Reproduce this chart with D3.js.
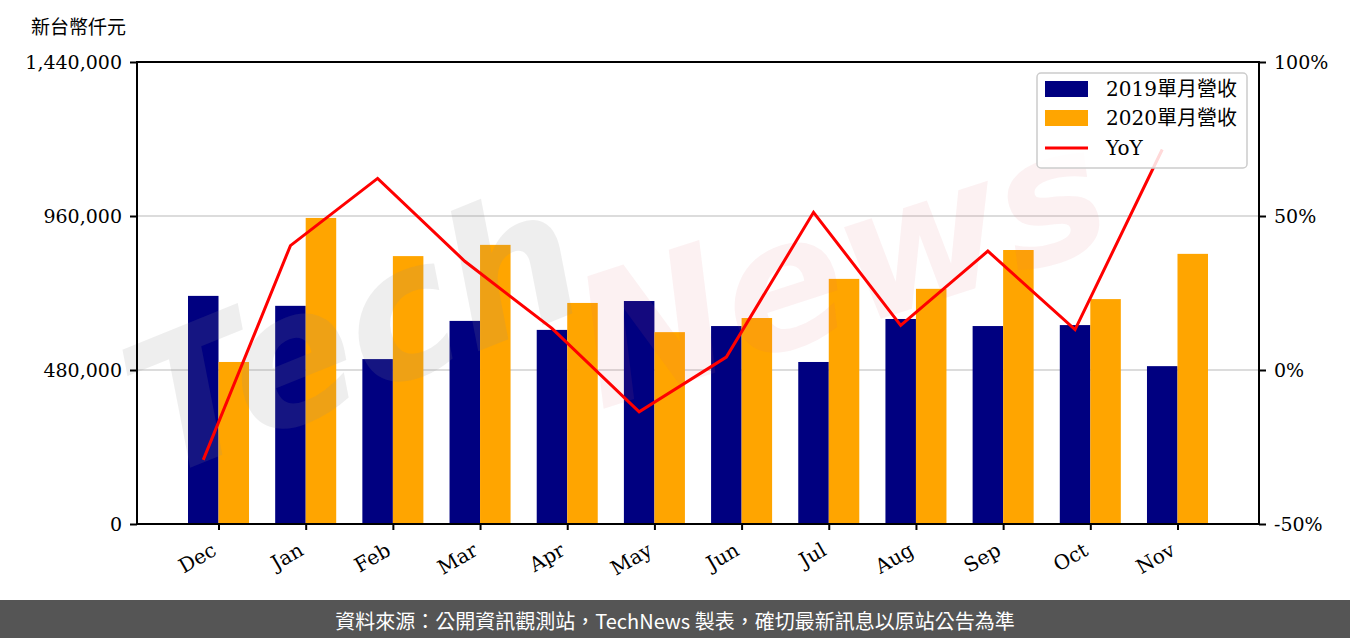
<!DOCTYPE html>
<html>
<head>
<meta charset="utf-8">
<script src="https://cdn.jsdelivr.net/npm/d3@7"></script>
<style>
  html, body { margin: 0; padding: 0; background: #fff; }
  svg { display: block; }
</style>
</head>
<body>
<svg id="chart" width="1350" height="638"></svg>
<script>
// ---- data ----
const months = ["Dec","Jan","Feb","Mar","Apr","May","Jun","Jul","Aug","Sep","Oct","Nov"];
const rev2019 = [711000, 680000, 514000, 633000, 605000, 695000, 617000, 505000, 639000, 617000, 620000, 492000];
const rev2020 = [505000, 954000, 835000, 870000, 689000, 598000, 642000, 764000, 733000, 854000, 701000, 842000];
const yoy = [-29.2, 40.4, 62.2, 35.3, 13.5, -13.6, 4.2, 51.2, 14.5, 38.6, 13.1, 71.6];
const leftTicks = [0, 480000, 960000, 1440000];
const rightTicks = [-50, 0, 50, 100];
const seriesNames = ["2019單月營收", "2020單月營收", "YoY"];
const unitLabel = "新台幣仟元";
const footerText = "資料來源：公開資訊觀測站，TechNews 製表，確切最新訊息以原站公告為準";

// ---- layout ----
const W = 1350, H = 638;
const L = 137, R = 1259, T = 62, B = 524;
const serif = "'DejaVu Serif', 'Noto Sans CJK TC', serif";
const fs = 19;

const svg = d3.select("#chart");

const x = d3.scaleLinear().domain([-0.935, 11.935]).range([L, R]);
const yL = d3.scaleLinear().domain([0, 1440000]).range([B, T]);
const yR = d3.scaleLinear().domain([-50, 100]).range([B, T]);
const bw = 0.35;

// grid
svg.append("g").selectAll("line").data(leftTicks.filter(d => d > 0 && d < 1440000)).join("line")
  .attr("x1", L).attr("x2", R)
  .attr("y1", d => yL(d)).attr("y2", d => yL(d))
  .attr("stroke", "#d0d0d0").attr("stroke-width", 1.6);

// bars
const gBars = svg.append("g");
gBars.selectAll("rect.b19").data(rev2019).join("rect")
  .attr("x", (d, i) => x(i - bw)).attr("width", x(bw) - x(0))
  .attr("y", d => yL(d)).attr("height", d => yL(0) - yL(d))
  .attr("fill", "#000080");
gBars.selectAll("rect.b20").data(rev2020).join("rect")
  .attr("x", (d, i) => x(i)).attr("width", x(bw) - x(0))
  .attr("y", d => yL(d)).attr("height", d => yL(0) - yL(d))
  .attr("fill", "#FFA500");

// watermark (faint, decorative)
const wm = svg.append("g").attr("pointer-events", "none");
wm.append("text")
  .attr("transform", "translate(160,480) rotate(-22)")
  .attr("font-family", "'DejaVu Sans', sans-serif")
  .attr("font-style", "italic").attr("font-weight", "bold")
  .attr("font-size", 185)
  .attr("fill", "rgb(140,140,140)").attr("fill-opacity", 0.15)
  .text("Tech");
wm.append("text")
  .attr("transform", "translate(600,410) rotate(-18)")
  .attr("font-family", "'DejaVu Sans', sans-serif")
  .attr("font-style", "italic").attr("font-weight", "bold")
  .attr("font-size", 180)
  .attr("fill", "rgb(220,100,110)").attr("fill-opacity", 0.09)
  .text("News");

// YoY line
const line = d3.line().x((d, i) => x(i - bw / 2)).y(d => yR(d));
svg.append("path").datum(yoy)
  .attr("d", line).attr("fill", "none")
  .attr("stroke", "#FF0000").attr("stroke-width", 3).attr("stroke-linejoin", "miter");

// axes
const axL = d3.axisLeft(yL).tickValues(leftTicks).tickFormat(d3.format(",")).tickSize(7).tickPadding(8);
const axR = d3.axisRight(yR).tickValues(rightTicks).tickFormat(d => d + "%").tickSize(7).tickPadding(8);
const axB = d3.axisBottom(x).tickValues(d3.range(months.length)).tickFormat(i => months[i]).tickSize(6).tickPadding(4);

function styleAxis(g) {
  g.select(".domain").remove();
  g.selectAll(".tick line").attr("stroke", "#000").attr("stroke-width", 2);
  g.selectAll(".tick text").attr("font-family", serif).attr("font-size", fs).attr("fill", "#000");
}
svg.append("g").attr("transform", `translate(${L},0)`).call(axL).call(styleAxis);
svg.append("g").attr("transform", `translate(${R},0)`).call(axR).call(styleAxis);
const gx = svg.append("g").attr("transform", `translate(0,${B})`).call(axB).call(styleAxis);
gx.selectAll(".tick text")
  .attr("text-anchor", "end").attr("dy", null).attr("y", null)
  .attr("dominant-baseline", "hanging")
  .attr("font-size", 20)
  .attr("transform", "translate(-9,17) rotate(-30)");

// frame
svg.append("rect").attr("x", L).attr("y", T).attr("width", R - L).attr("height", B - T)
  .attr("fill", "none").attr("stroke", "#000").attr("stroke-width", 2);

// unit label
svg.append("text").attr("x", 31).attr("y", 34)
  .attr("font-family", "'Noto Sans CJK TC', sans-serif").attr("font-size", fs).attr("fill", "#000")
  .text(unitLabel);

// legend
const lg = svg.append("g");
lg.append("rect").attr("x", 1037).attr("y", 73).attr("width", 210).attr("height", 95)
  .attr("rx", 4).attr("fill", "#fff").attr("fill-opacity", 0.85)
  .attr("stroke", "#cccccc").attr("stroke-width", 1.5);
const rowY = [89, 118, 148];
const colors = ["#000080", "#FFA500", "#FF0000"];
seriesNames.forEach((name, i) => {
  if (i < 2) {
    lg.append("rect").attr("x", 1045).attr("y", rowY[i] - 8).attr("width", 43).attr("height", 16).attr("fill", colors[i]);
  } else {
    lg.append("line").attr("x1", 1045).attr("x2", 1088).attr("y1", rowY[i]).attr("y2", rowY[i])
      .attr("stroke", colors[i]).attr("stroke-width", 3);
  }
  lg.append("text").attr("x", 1106).attr("y", rowY[i]).attr("dominant-baseline", "central")
    .attr("font-family", serif).attr("font-size", 20).attr("fill", "#000").text(name);
});

// footer
svg.append("rect").attr("x", 0).attr("y", 600).attr("width", W).attr("height", H - 600).attr("fill", "#555555");
svg.append("text").attr("x", W / 2).attr("y", 620).attr("text-anchor", "middle")
  .attr("dominant-baseline", "central")
  .attr("font-family", "'Noto Sans CJK TC', sans-serif").attr("font-size", 20).attr("fill", "#fff")
  .text(footerText);
</script>
</body>
</html>
